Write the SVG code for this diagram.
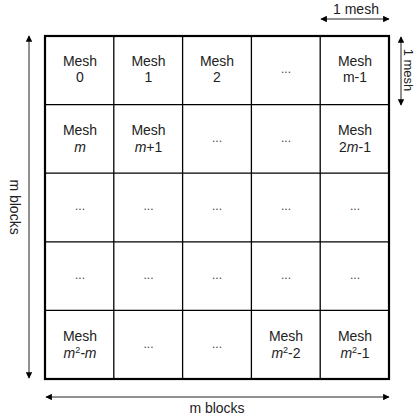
<svg xmlns="http://www.w3.org/2000/svg" width="415" height="418" viewBox="0 0 415 418">
<style>
text{font-family:"Liberation Sans",Arial,sans-serif;font-size:14px;fill:#222;text-anchor:middle}
.d{font-size:12px;fill:#444}
.i{font-style:italic}
.s{font-size:9px}
.r{font-size:13px}
.cell{fill:none;stroke:#000;stroke-width:1.3}
.outer{fill:none;stroke:#000;stroke-width:2.2}
.arr{stroke:#222;stroke-width:1;fill:none;marker-start:url(#ah);marker-end:url(#ah)}
</style>
<defs>
<marker id="ah" viewBox="0 0 10 10" refX="9" refY="5" markerWidth="7" markerHeight="6.5" markerUnits="userSpaceOnUse" orient="auto-start-reverse">
<path d="M0,0 L10,5 L0,10 z" fill="#000"/>
</marker>
</defs>
<g id="grid">
<path class="cell" d="M113.8,36V379M182.6,36V379M251.4,36V379M320.2,36V379M45,104.6H389M45,173.2H389M45,241.8H389M45,310.4H389"/>
<rect class="outer" x="45" y="36" width="344" height="343"/>
</g>
<g id="n0"><text x="80" y="66">Mesh</text><text x="80" y="82">0</text></g>
<g id="n1"><text x="148.5" y="66">Mesh</text><text x="148.5" y="82">1</text></g>
<g id="n2"><text x="217" y="66">Mesh</text><text x="217" y="82">2</text></g>
<g id="n3"><text class="d" x="286" y="73">...</text></g>
<g id="n4"><text x="355" y="66">Mesh</text><text x="355" y="82">m-1</text></g>
<g id="n5"><text x="80" y="135">Mesh</text><text class="i" x="80" y="151.5">m</text></g>
<g id="n6"><text x="148.5" y="135">Mesh</text><text x="148.5" y="151.5"><tspan class="i">m</tspan>+1</text></g>
<g id="n7"><text class="d" x="217" y="142">...</text></g>
<g id="n8"><text class="d" x="286" y="142">...</text></g>
<g id="n9"><text x="355" y="135">Mesh</text><text x="355" y="151.5">2<tspan class="i">m</tspan>-1</text></g>
<g id="n10"><text class="d" x="80" y="210">...</text></g>
<g id="n11"><text class="d" x="148.5" y="210">...</text></g>
<g id="n12"><text class="d" x="217" y="210">...</text></g>
<g id="n13"><text class="d" x="286" y="210">...</text></g>
<g id="n14"><text class="d" x="355" y="210">...</text></g>
<g id="n15"><text class="d" x="80" y="279">...</text></g>
<g id="n16"><text class="d" x="148.5" y="279">...</text></g>
<g id="n17"><text class="d" x="217" y="279">...</text></g>
<g id="n18"><text class="d" x="286" y="279">...</text></g>
<g id="n19"><text class="d" x="355" y="279">...</text></g>
<g id="n20"><text x="80" y="341">Mesh</text><text x="80" y="357.5"><tspan class="i">m</tspan><tspan class="s" dy="-5">2</tspan><tspan class="i" dy="5">-m</tspan></text></g>
<g id="n21"><text class="d" x="148.5" y="348">...</text></g>
<g id="n22"><text class="d" x="217" y="348">...</text></g>
<g id="n23"><text x="286" y="341">Mesh</text><text x="286" y="357.5"><tspan class="i">m</tspan><tspan class="s" dy="-5">2</tspan><tspan dy="5">-2</tspan></text></g>
<g id="n24"><text x="355" y="341">Mesh</text><text x="355" y="357.5"><tspan class="i">m</tspan><tspan class="s" dy="-5">2</tspan><tspan dy="5">-1</tspan></text></g>
<g id="connectors">
<line class="arr" x1="321" y1="19" x2="389" y2="19"/>
<line class="arr" x1="401" y1="37" x2="401" y2="105"/>
<line class="arr" x1="29" y1="36" x2="29" y2="378"/>
<line class="arr" x1="46" y1="397" x2="389" y2="397"/>
</g>
<g id="labels">
<text x="356" y="14">1 mesh</text>
<text class="r" transform="translate(403.5,70) rotate(90)">1 mesh</text>
<text transform="translate(9.5,207) rotate(90)">m blocks</text>
<text x="217" y="413">m blocks</text>
</g>
</svg>
